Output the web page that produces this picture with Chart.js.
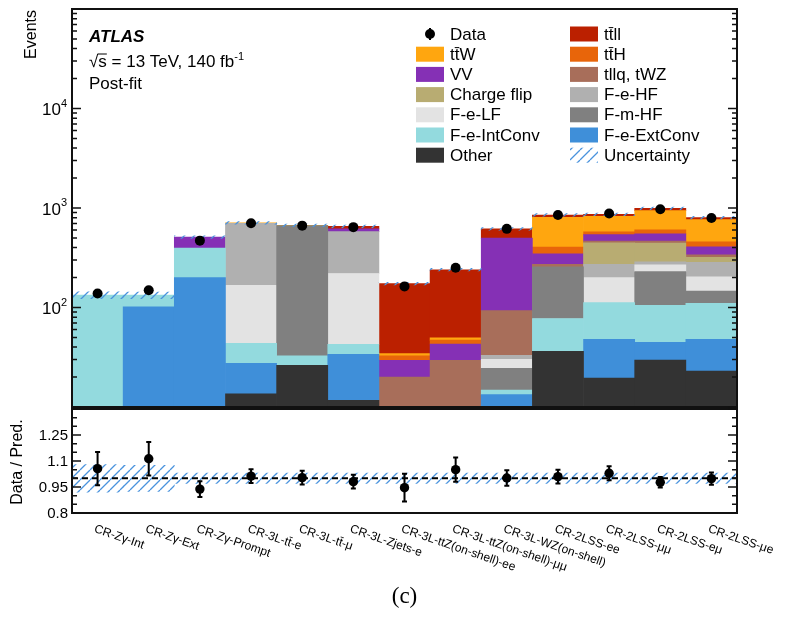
<!DOCTYPE html>
<html><head><meta charset="utf-8">
<script src="https://cdn.jsdelivr.net/npm/chart.js@4.4.0/dist/chart.umd.min.js"></script>
<style>
html,body{margin:0;padding:0;background:#fff;}
#wrap{position:relative;width:790px;height:622px;overflow:hidden;}
canvas{position:absolute;left:0;}
#c1{top:0;width:790px;height:412px;}
#c2{top:400px;width:790px;height:222px;}
</style></head><body>
<div id="wrap"><canvas id="c1" width="790" height="412"></canvas><canvas id="c2" width="790" height="222"></canvas></div>
<script>
// ---------------- data ----------------
const categories = ['CR-Z\u03B3-Int','CR-Z\u03B3-Ext','CR-Z\u03B3-Prompt','CR-3L-tt\u0304-e','CR-3L-tt\u0304-\u03BC','CR-3L-Zjets-e','CR-3L-ttZ(on-shell)-ee','CR-3L-ttZ(on-shell)-\u03BC\u03BC','CR-3L-WZ(on-shell)','CR-2LSS-ee','CR-2LSS-\u03BC\u03BC','CR-2LSS-e\u03BC','CR-2LSS-\u03BCe'];

const other      = [0, 0, 0, 13.6, 26.3, 11.7, 0, 0, 0, 36.3, 19.5, 29.7, 22.9];
const eExtConv   = [0, 101.6, 200, 13.9, 0, 22.2, 0, 0, 13.3, 0, 28.4, 15, 25];
const eIntConv   = [133, 31.4, 195, 16.2, 6.3, 8.8, 0, 0, 1.5, 41.3, 64, 60.3, 62];
const mHF        = [0, 0, 0, 0, 632, 0, 0, 0, 9.7, 179.4, 0, 124, 36];
const eLF        = [0, 0, 0, 123, 0, 177, 0, 0, 5.7, 0, 88, 40, 58];
const eHF        = [0, 0, 0, 536, 0, 360, 0, 0, 2.8, 0, 71, 19, 80];
const chargeFlip = [0, 0, 0, 0, 0, 0, 0, 0, 0, 0, 176, 155, 35];
const tllq       = [0, 0, 0, 0, 0, 0, 20, 29.5, 60, 15, 17, 21, 20];
const vv         = [0, 0, 114, 0, 0, 37, 9.5, 13.5, 405, 75, 77, 86, 68];
const ttH        = [0, 0, 0, 0, 0, 0, 3.1, 4, 0, 58, 34, 53, 50];
const ttW        = [0, 0, 0, 5, 4, 0, 1.8, 2.7, 0, 402, 251, 337, 307];
const ttll       = [0, 0, 0, 0, 0, 39, 139.6, 190, 119, 44, 39, 53, 36];

const dataEvents = [138, 149, 470, 703, 665, 642, 163, 251, 617, 851, 880, 970, 794];
const ratio      = [1.056, 1.113, 0.938, 1.013, 1.004, 0.981, 0.946, 1.05, 1.002, 1.01, 1.029, 0.977, 0.998];
const ratioErr   = [0.096, 0.097, 0.045, 0.04, 0.04, 0.04, 0.08, 0.07, 0.045, 0.04, 0.04, 0.03, 0.035];
const uncertainty= [0.08, 0.075, 0.03, 0.03, 0.03, 0.03, 0.03, 0.03, 0.03, 0.03, 0.03, 0.03, 0.03];

const logTicks   = [10, 100, 1000, 10000, 100000];
const ratioTicks = [0.8, 0.95, 1.1, 1.25];

// ---------------- styling ----------------
const FF = '"Liberation Sans", Arial, Helvetica, sans-serif';
const components = [
  {label:'Other',         color:'#333333', values:other},
  {label:'F-e-ExtConv',   color:'#3f8fd9', values:eExtConv},
  {label:'F-e-IntConv',   color:'#93dade', values:eIntConv},
  {label:'F-m-HF',        color:'#808080', values:mHF},
  {label:'F-e-LF',        color:'#e3e3e3', values:eLF},
  {label:'F-e-HF',        color:'#b0b0b0', values:eHF},
  {label:'Charge flip',   color:'#b8ac72', values:chargeFlip},
  {label:'tllq, tWZ',     color:'#a86e5a', values:tllq},
  {label:'VV',            color:'#8530b5', values:vv},
  {label:'tt\u0304H',     color:'#e8650a', values:ttH},
  {label:'tt\u0304W',     color:'#ffa60f', values:ttW},
  {label:'tt\u0304ll',    color:'#bb2000', values:ttll}
];
const legendCol1 = ['Data','tt\u0304W','VV','Charge flip','F-e-LF','F-e-IntConv','Other'];
const legendCol2 = ['tt\u0304ll','tt\u0304H','tllq, tWZ','F-e-HF','F-m-HF','F-e-ExtConv','Uncertainty'];

function hatchPattern(color, s, lw){
  const c = document.createElement('canvas'); c.width = s; c.height = s;
  const g = c.getContext('2d'); g.strokeStyle = color; g.lineWidth = lw;
  g.beginPath();
  for (const o of [-s, 0, s]) { g.moveTo(o, s); g.lineTo(o + s, 0); }
  g.stroke();
  return g.createPattern(c, 'repeat');
}
const hatch = hatchPattern('#4a93dd', 10, 1.3);

// ---------------- main chart datasets ----------------
const cum = categories.map(() => 0);
const barSets = components.map((c, k) => ({
  type:'bar', label:c.label, backgroundColor:c.color, borderWidth:0,
  barPercentage:1, categoryPercentage:1, grouped:false, order:10 + k,
  data: c.values.map((v, i) => { if (!v) return null; const lo = cum[i]; cum[i] += v; return [Math.max(lo, 1), cum[i]]; })
}));
const totals = cum.slice();
const uncSet = {
  type:'bar', label:'Uncertainty', backgroundColor:hatch, borderWidth:0,
  barPercentage:1, categoryPercentage:1, grouped:false, order:2,
  data: totals.map((t, i) => [t * (1 - uncertainty[i]), t * (1 + uncertainty[i])])
};
const dataSet = {
  type:'line', label:'Data', data:dataEvents, showLine:false, order:0,
  pointRadius:5, pointHoverRadius:5, pointBackgroundColor:'#000', pointBorderWidth:0
};

function drawFrame(ctx, a){
  ctx.save(); ctx.strokeStyle = '#111'; ctx.lineWidth = 2;
  ctx.strokeRect(a.left, a.top, a.right - a.left, a.bottom - a.top);
  ctx.restore();
}
function tick(ctx, a, y, len){
  ctx.beginPath();
  ctx.moveTo(a.left, y); ctx.lineTo(a.left + len, y);
  ctx.moveTo(a.right, y); ctx.lineTo(a.right - len, y);
  ctx.stroke();
}

const mainDecor = {
  id:'mainDecor',
  afterDraw(chart){
    const ctx = chart.ctx, a = chart.chartArea, ys = chart.scales.y;
    ctx.save();
    drawFrame(ctx, a);
    // ticks
    ctx.strokeStyle = '#111'; ctx.lineWidth = 1.5;
    for (let e = 0; e < logTicks.length; e++) {
      const base = logTicks[e];
      tick(ctx, a, ys.getPixelForValue(base), 9);
      if (e < logTicks.length - 1) for (let m = 2; m <= 9; m++) tick(ctx, a, ys.getPixelForValue(base * m), 5);
    }
    // tick labels 10^n (2..4)
    ctx.fillStyle = '#000'; ctx.textBaseline = 'middle';
    for (const v of [100, 1000, 10000]) {
      const y = ys.getPixelForValue(v) + 2;
      const exp = String(Math.round(Math.log10(v)));
      ctx.font = '11px ' + FF; const we = ctx.measureText(exp).width;
      ctx.textAlign = 'left'; ctx.fillText(exp, a.left - 5 - we, y - 7);
      ctx.font = '17px ' + FF; ctx.textAlign = 'right'; ctx.fillText('10', a.left - 5 - we, y);
    }
    // axis title
    ctx.save(); ctx.translate(32, a.top + 1); ctx.rotate(-Math.PI / 2);
    ctx.font = '16px ' + FF; ctx.textAlign = 'right'; ctx.textBaseline = 'middle';
    ctx.fillText('Events', 0, 0); ctx.restore();
    // ATLAS label
    ctx.textAlign = 'left'; ctx.textBaseline = 'alphabetic';
    ctx.font = 'italic bold 17px ' + FF; ctx.fillText('ATLAS', 89, 42);
    ctx.font = '17px ' + FF;
    let x = 89, y = 67;
    ctx.fillText('\u221A', x, y); x += ctx.measureText('\u221A').width;
    const ws = ctx.measureText('s').width; ctx.fillText('s', x, y);
    ctx.lineWidth = 1; ctx.strokeStyle = '#000';
    ctx.beginPath(); ctx.moveTo(x - 0.5, y - 13); ctx.lineTo(x + ws, y - 13); ctx.stroke();
    x += ws; const t2 = ' = 13 TeV, 140 fb'; ctx.fillText(t2, x, y); x += ctx.measureText(t2).width;
    ctx.font = '11px ' + FF; ctx.fillText('-1', x, y - 7);
    ctx.font = '17px ' + FF; ctx.fillText('Post-fit', 89, 89);
    // legend
    const colorOf = {};
    chart.data.datasets.forEach(d => { colorOf[d.label] = d.backgroundColor; });
    ctx.textBaseline = 'middle'; ctx.font = '17px ' + FF;
    const cols = [[legendCol1, 416], [legendCol2, 570]];
    for (const [list, sx] of cols) {
      list.forEach((lab, r) => {
        const cy = 34 + r * 20.2;
        if (lab === 'Data') {
          ctx.fillStyle = '#000';
          ctx.beginPath(); ctx.arc(sx + 14, cy, 5, 0, Math.PI * 2); ctx.fill();
          ctx.lineWidth = 2; ctx.beginPath(); ctx.moveTo(sx + 14, cy - 6); ctx.lineTo(sx + 14, cy + 6); ctx.stroke();
        } else {
          ctx.fillStyle = colorOf[lab];
          ctx.fillRect(sx, cy - 7.5, 28, 15);
        }
        ctx.fillStyle = '#000';
        ctx.fillText(lab, sx + 34, cy + 1);
      });
    }
    ctx.restore();
  }
};

new Chart(document.getElementById('c1'), {
  type:'bar',
  data:{labels:categories, datasets:[dataSet, uncSet, ...barSets]},
  options:{
    responsive:false, animation:false, devicePixelRatio:1,
    layout:{padding:{left:0, right:53, top:9, bottom:0}},
    plugins:{legend:{display:false}, tooltip:{enabled:false}},
    scales:{
      x:{type:'category', offset:true, grid:{display:false}, border:{display:false}, ticks:{display:false}, afterFit(s){ s.height = 3; }},
      y:{type:'logarithmic', min:10, max:100000, grid:{display:false}, border:{display:false}, ticks:{display:false}, afterFit(s){ s.width = 72; }}
    }
  },
  plugins:[mainDecor]
});

// ---------------- ratio chart ----------------
const ratioBand = {
  type:'bar', label:'Uncertainty', backgroundColor:hatch, borderWidth:0,
  barPercentage:1, categoryPercentage:1, grouped:false, order:2,
  data: uncertainty.map(u => [1 - u, 1 + u])
};
const ratioPts = {
  type:'line', label:'Data / Pred.', data:ratio, showLine:false, order:0,
  pointRadius:4.7, pointHoverRadius:4.7, pointBackgroundColor:'#000', pointBorderWidth:0
};

const ratioDecor = {
  id:'ratioDecor',
  beforeDatasetDraw(chart, args){
    if (args.meta.type !== 'line') return;
    const ctx = chart.ctx, a = chart.chartArea, xs = chart.scales.x, ys = chart.scales.y;
    ctx.save();
    // dashed line at 1
    ctx.strokeStyle = '#000'; ctx.lineWidth = 2; ctx.setLineDash([6, 4]);
    const y1 = ys.getPixelForValue(1);
    ctx.beginPath(); ctx.moveTo(a.left, y1); ctx.lineTo(a.right, y1); ctx.stroke();
    ctx.setLineDash([]);
    // error bars
    ratio.forEach((r, i) => {
      const x = xs.getPixelForValue(i);
      const yt = ys.getPixelForValue(r + ratioErr[i]), yb = ys.getPixelForValue(r - ratioErr[i]);
      ctx.beginPath(); ctx.moveTo(x, yt); ctx.lineTo(x, yb);
      ctx.moveTo(x - 2.5, yt); ctx.lineTo(x + 2.5, yt);
      ctx.moveTo(x - 2.5, yb); ctx.lineTo(x + 2.5, yb);
      ctx.stroke();
    });
    ctx.restore();
  },
  afterDraw(chart){
    const ctx = chart.ctx, a = chart.chartArea, xs = chart.scales.x, ys = chart.scales.y;
    ctx.save();
    drawFrame(ctx, a);
    ctx.strokeStyle = '#111'; ctx.lineWidth = 1.5;
    for (let k = 0; k <= 12; k++) {
      const v = 0.8 + k * 0.05;
      const major = (k % 3 === 0);
      tick(ctx, a, ys.getPixelForValue(v), major ? 9 : 5);
    }
    ctx.fillStyle = '#000'; ctx.font = '15px ' + FF; ctx.textAlign = 'right'; ctx.textBaseline = 'middle';
    ratioTicks.forEach(v => ctx.fillText(String(v), a.left - 4, ys.getPixelForValue(v) + 1));
    // axis title
    ctx.save(); ctx.translate(18, (a.top + a.bottom) / 2 + 1); ctx.rotate(-Math.PI / 2);
    ctx.font = '16px ' + FF; ctx.textAlign = 'center'; ctx.textBaseline = 'middle';
    ctx.fillText('Data / Pred.', 0, 0); ctx.restore();
    // category labels
    ctx.font = '12px ' + FF; ctx.textAlign = 'left'; ctx.textBaseline = 'top';
    categories.forEach((c, i) => {
      ctx.save();
      ctx.translate(xs.getPixelForValue(i) - 1, a.bottom + 10);
      ctx.rotate(19 * Math.PI / 180);
      ctx.fillText(c, 0, 0);
      ctx.restore();
    });
    // caption
    ctx.font = '23px "Liberation Serif", "Times New Roman", serif'; ctx.textAlign = 'center'; ctx.textBaseline = 'middle';
    ctx.fillText('(c)', (a.left + a.right) / 2, 197);
    ctx.restore();
  }
};

new Chart(document.getElementById('c2'), {
  type:'bar',
  data:{labels:categories, datasets:[ratioPts, ratioBand]},
  options:{
    responsive:false, animation:false, devicePixelRatio:1,
    layout:{padding:{left:0, right:53, top:9, bottom:0}},
    plugins:{legend:{display:false}, tooltip:{enabled:false}},
    scales:{
      x:{type:'category', offset:true, grid:{display:false}, border:{display:false}, ticks:{display:false}, afterFit(s){ s.height = 109; }},
      y:{type:'linear', min:0.8, max:1.4, grid:{display:false}, border:{display:false}, ticks:{display:false}, afterFit(s){ s.width = 72; }}
    }
  },
  plugins:[ratioDecor]
});
</script>
</body></html>
